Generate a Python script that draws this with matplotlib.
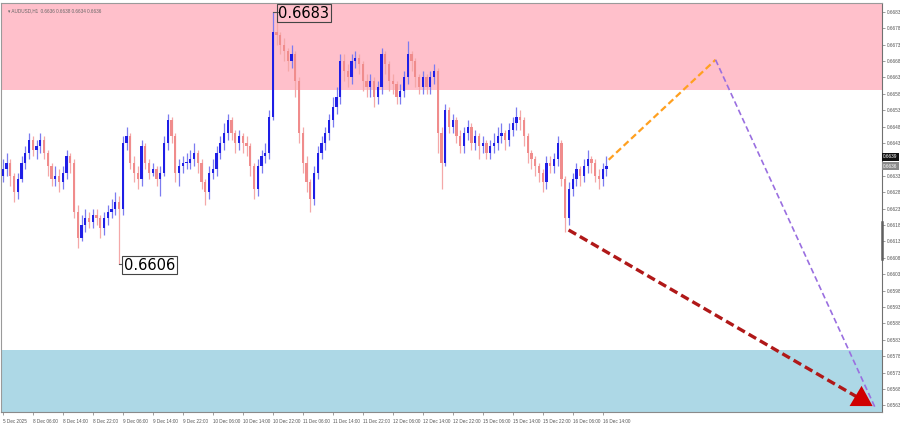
import matplotlib
matplotlib.use("Agg")
import matplotlib.pyplot as plt

# ---------------- data ----------------
first_open = 0.6633
closes = [
    0.6635, 0.6637, 0.6633, 0.6628, 0.6632, 0.6637, 0.6640, 0.6644, 0.6641, 0.6642,
    0.6644, 0.6640, 0.6636, 0.6632, 0.6633, 0.6631, 0.6634, 0.6639, 0.6637, 0.6622,
    0.6614, 0.6618, 0.6620, 0.6619, 0.6621, 0.6620, 0.6617, 0.6620, 0.6622, 0.6623,
    0.6625, 0.6623, 0.6643, 0.6645, 0.6637, 0.6634, 0.6632, 0.6642, 0.6637, 0.6634,
    0.6635, 0.6632, 0.6634, 0.6643, 0.6650, 0.6645, 0.6634, 0.6636, 0.6637, 0.6637,
    0.6638, 0.6640, 0.6637, 0.6631, 0.6628, 0.6634, 0.6635, 0.6640, 0.6643, 0.6646,
    0.6650, 0.6646, 0.6643, 0.6645, 0.6643, 0.6642, 0.6636, 0.6629, 0.6636, 0.6639,
    0.6640, 0.6651, 0.6677, 0.6676, 0.6673, 0.6671, 0.6668, 0.6670, 0.6662, 0.6646,
    0.6637, 0.6631, 0.6626, 0.6634, 0.6640, 0.6643, 0.6646, 0.6650, 0.6654, 0.6657,
    0.6668, 0.6665, 0.6663, 0.6668, 0.6669, 0.6667, 0.6662, 0.6660, 0.6662, 0.6657,
    0.6660, 0.6670, 0.6667, 0.6662, 0.6661, 0.6657, 0.6659, 0.6663, 0.6670, 0.6668,
    0.6663, 0.6660, 0.6663, 0.6660, 0.6663, 0.6665, 0.6646, 0.6637, 0.6653, 0.6648,
    0.6650, 0.6645, 0.6642, 0.6646, 0.6648, 0.6643, 0.6645, 0.6642, 0.6643, 0.6640,
    0.6642, 0.6643, 0.6645, 0.6646, 0.6644, 0.6647, 0.6649, 0.6651, 0.6650, 0.6645,
    0.6640, 0.6638, 0.6636, 0.6634, 0.6631, 0.6637, 0.6636, 0.6638, 0.6643, 0.6632,
    0.6620, 0.6629, 0.6632, 0.6635, 0.6633, 0.6636, 0.6638, 0.6637, 0.6633, 0.6632,
    0.6635, 0.6636,
]
highs = [
    0.6638, 0.6640, 0.6638, 0.6634, 0.6634, 0.6639, 0.6642, 0.6646, 0.6645, 0.6644,
    0.6646, 0.6645, 0.6641, 0.6637, 0.6636, 0.6635, 0.6636, 0.6641, 0.6640, 0.6638,
    0.6624, 0.6621, 0.6623, 0.6622, 0.6623, 0.6623, 0.6621, 0.6622, 0.6624, 0.6626,
    0.6628, 0.6627, 0.6645, 0.6648, 0.6646, 0.6639, 0.6636, 0.6644, 0.6643, 0.6638,
    0.6637, 0.6636, 0.6636, 0.6645, 0.6652, 0.6651, 0.6646, 0.6638, 0.6639, 0.6640,
    0.6641, 0.6643, 0.6641, 0.6638, 0.6632, 0.6636, 0.6638, 0.6642, 0.6645, 0.6649,
    0.6652, 0.6651, 0.6647, 0.6647, 0.6646, 0.6645, 0.6643, 0.6637, 0.6638, 0.6641,
    0.6643, 0.6653, 0.6683, 0.6680, 0.6677, 0.6675, 0.6672, 0.6673, 0.6671, 0.6663,
    0.6648, 0.6639, 0.6632, 0.6636, 0.6642, 0.6645, 0.6648, 0.6652, 0.6657, 0.6660,
    0.6670, 0.6670, 0.6667, 0.6670, 0.6671, 0.6670, 0.6668, 0.6664, 0.6664, 0.6663,
    0.6662, 0.6672, 0.6671, 0.6668, 0.6664, 0.6662, 0.6661, 0.6665, 0.6674, 0.6671,
    0.6669, 0.6664, 0.6665, 0.6664, 0.6665, 0.6667, 0.6666, 0.6648, 0.6655, 0.6654,
    0.6652, 0.6651, 0.6647, 0.6648, 0.6650, 0.6649, 0.6647, 0.6646, 0.6645, 0.6644,
    0.6644, 0.6646, 0.6648, 0.6649, 0.6647, 0.6649, 0.6651, 0.6654, 0.6653, 0.6651,
    0.6646, 0.6641, 0.6639, 0.6637, 0.6635, 0.6639, 0.6639, 0.6640, 0.6645, 0.6644,
    0.6633, 0.6631, 0.6634, 0.6637, 0.6636, 0.6638, 0.6641, 0.6639, 0.6638, 0.6635,
    0.6637, 0.6639,
]
lows = [
    0.6631, 0.6633, 0.6630, 0.6625, 0.6626, 0.6631, 0.6635, 0.6638, 0.6639, 0.6638,
    0.6640, 0.6638, 0.6633, 0.6630, 0.6630, 0.6628, 0.6629, 0.6632, 0.6634, 0.6620,
    0.6611, 0.6613, 0.6616, 0.6617, 0.6617, 0.6618, 0.6614, 0.6615, 0.6618, 0.6620,
    0.6621, 0.6606, 0.6621, 0.6641, 0.6635, 0.6631, 0.6629, 0.6630, 0.6635, 0.6632,
    0.6633, 0.6630, 0.6627, 0.6633, 0.6641, 0.6643, 0.6631, 0.6630, 0.6634, 0.6635,
    0.6635, 0.6636, 0.6634, 0.6629, 0.6624, 0.6626, 0.6632, 0.6633, 0.6638, 0.6641,
    0.6644, 0.6644, 0.6640, 0.6641, 0.6640, 0.6639, 0.6633, 0.6626, 0.6627, 0.6634,
    0.6637, 0.6638, 0.6650, 0.6673, 0.6670, 0.6668, 0.6665, 0.6666, 0.6657, 0.6643,
    0.6634, 0.6628, 0.6622, 0.6624, 0.6632, 0.6638, 0.6641, 0.6644, 0.6648, 0.6652,
    0.6655, 0.6662, 0.6660, 0.6661, 0.6666, 0.6664, 0.6659, 0.6657, 0.6657, 0.6654,
    0.6655, 0.6658, 0.6664, 0.6659, 0.6658, 0.6655, 0.6655, 0.6657, 0.6661, 0.6665,
    0.6660, 0.6658, 0.6658, 0.6658, 0.6658, 0.6661, 0.6640, 0.6629, 0.6636, 0.6646,
    0.6646, 0.6643, 0.6640, 0.6640, 0.6644, 0.6641, 0.6641, 0.6638, 0.6640, 0.6638,
    0.6638, 0.6640, 0.6641, 0.6643, 0.6641, 0.6642, 0.6645, 0.6647, 0.6647, 0.6642,
    0.6637, 0.6635, 0.6633, 0.6631, 0.6628, 0.6629, 0.6634, 0.6634, 0.6636, 0.6630,
    0.6616, 0.6618, 0.6627, 0.6630, 0.6630, 0.6631, 0.6634, 0.6634, 0.6631, 0.6629,
    0.6630, 0.6633,
]
x_tick_labels = [
    "5 Dec 2025", "8 Dec 06:00", "8 Dec 14:00", "8 Dec 22:00", "9 Dec 06:00",
    "9 Dec 14:00", "9 Dec 22:00", "10 Dec 06:00", "10 Dec 14:00", "10 Dec 22:00",
    "11 Dec 06:00", "11 Dec 14:00", "11 Dec 22:00", "12 Dec 06:00", "12 Dec 14:00",
    "12 Dec 22:00", "15 Dec 06:00", "15 Dec 14:00", "15 Dec 22:00", "16 Dec 06:00",
    "16 Dec 14:00",
]
bars_per_label = 8
y_ticks = [0.6683, 0.6678, 0.6673, 0.6668, 0.6663, 0.6658, 0.6653, 0.6648, 0.6643,
           0.6633, 0.6628, 0.6623, 0.6618, 0.6613, 0.6608, 0.6603, 0.6598,
           0.6593, 0.6588, 0.6583, 0.6578, 0.6573, 0.6568, 0.6563]
title_text = "\u25BE AUDUSD,H1  0.6636 0.6638 0.6634 0.6636"
ask_price = 0.66388
bid_price = 0.6636
resistance_zone = (0.66592, 0.6700)
support_zone = (0.6500, 0.65799)
high_mark = (72, 0.6683)
low_mark = (31, 0.6606)
# forecast wave paths (bar index, price)
orange_x = [161.6, 190.1]
orange_y = [0.66379, 0.66684]
purple_x = [190.1, 232.6]
purple_y = [0.66684, 0.65625]
red_x = [150.9, 232.0]
red_y = [0.66165, 0.65628]

# ---------------- figure ----------------
SMALL_FONT = ["Liberation Sans", "DejaVu Sans"]
W, H = 900, 433
fig = plt.figure(figsize=(W / 100, H / 100), dpi=100)
fig.patch.set_facecolor("white")
ax = fig.add_axes([1 / W, (H - 412) / H, 881 / W, 409 / H])
ax.set_xlim(-0.5, 234.5)
ax.set_ylim(0.65610, 0.66857)

# zones
ax.axhspan(resistance_zone[0], resistance_zone[1], color="#FFC0CB", lw=0, zorder=0)
ax.axhspan(support_zone[0], support_zone[1], color="#ADD8E6", lw=0, zorder=0)

# candles
opens = [first_open] + closes[:-1]
bull_c, bear_c = "#1E1EE6", "#F08C8C"
bull_w, bear_w = "#7C7CF0", "#F4A8A8"
idx = list(range(len(closes)))
cols = [bull_c if c >= o else bear_c for o, c in zip(opens, closes)]
wcols = [bull_w if c >= o else bear_w for o, c in zip(opens, closes)]
ax.vlines(idx, lows, highs, colors=wcols, lw=0.9, zorder=2)
bottoms = [min(o, c) for o, c in zip(opens, closes)]
heights = [max(abs(c - o), 0.00003) for o, c in zip(opens, closes)]
ax.bar(idx, heights, bottom=bottoms, width=0.6, color=cols, lw=0, zorder=3)

# high / low labels
ax.plot([high_mark[0], high_mark[0] + 1.3], [high_mark[1], high_mark[1]],
        color="#555555", lw=0.8, zorder=4)
ax.text(high_mark[0] + 1.5, high_mark[1] - 0.00004, "%.4f" % high_mark[1],
        fontsize=10.5, ha="left", va="center", color="black", zorder=5,
        bbox=dict(boxstyle="square,pad=0.12", fc="none", ec="#444444", lw=0.8))
ax.plot([low_mark[0], low_mark[0] + 1.0], [low_mark[1], low_mark[1]],
        color="#555555", lw=0.8, zorder=4)
ax.text(low_mark[0] + 1.2, low_mark[1] - 0.00002, "%.4f" % low_mark[1],
        fontsize=10.5, ha="left", va="center", color="black", zorder=5,
        bbox=dict(boxstyle="square,pad=0.12", fc="white", ec="#444444", lw=0.8))

# forecast lines
ax.plot(orange_x, orange_y, color="#FFA020", lw=1.6, dashes=(3, 1.6), zorder=6)
ax.plot(purple_x, purple_y, color="#9A6FE0", lw=1.2, dashes=(3.5, 2), zorder=6)
ax.plot(red_x[:1] + [red_x[1] - 2.5], red_y[:1] + [red_y[1] + 0.00017],
        color="#B01818", lw=2.4, dashes=(2.6, 1.3), zorder=7)
ax.annotate("", xy=(red_x[1], red_y[1]),
            xytext=(red_x[1] - 5.0, red_y[1] + 0.00034),
            arrowprops=dict(arrowstyle="-|>,head_length=1.1,head_width=0.65",
                            color="#D00000", lw=0, mutation_scale=13,
                            shrinkA=0, shrinkB=0), zorder=8)

# axes styling
for s in ["top", "left"]:
    ax.spines[s].set_color("#9A9A9A")
    ax.spines[s].set_linewidth(0.8)
ax.spines["bottom"].set_color("#8A8A8A")
ax.spines["right"].set_color("#707070")
ax.spines["bottom"].set_linewidth(0.8)
ax.spines["right"].set_linewidth(0.8)

ax.yaxis.tick_right()
ax.set_yticks(y_ticks)
ax.set_yticklabels(["%.4f" % v for v in y_ticks], family=SMALL_FONT)
ax.tick_params(axis="y", labelsize=3.4, labelcolor="#555555", color="#777777",
               length=2, width=0.5, pad=1.2, direction="out")
xt = [i * bars_per_label for i in range(len(x_tick_labels))]
ax.set_xticks(xt)
ax.set_xticklabels(x_tick_labels, ha="left", family=SMALL_FONT)
ax.tick_params(axis="x", labelsize=3.3, labelcolor="#555555", color="#777777",
               length=2.5, width=0.5, pad=2.5, direction="out")

# price boxes on the right scale
ax.text(1.0015, ask_price, "%.4f" % ask_price, transform=ax.get_yaxis_transform(),
        fontsize=3.4, family=SMALL_FONT, color="white", ha="left", va="center",
        bbox=dict(boxstyle="square,pad=0.25", fc="#111111", ec="none"), clip_on=False)
ax.text(1.0015, bid_price, "%.4f" % bid_price, transform=ax.get_yaxis_transform(),
        fontsize=3.4, family=SMALL_FONT, color="white", ha="left", va="center",
        bbox=dict(boxstyle="square,pad=0.25", fc="#8A8A8A", ec="none"), clip_on=False)
ax.plot([1.0, 1.0], [0.66190, 0.66075], transform=ax.get_yaxis_transform(),
        color="#606060", lw=1.8, clip_on=False, zorder=9)

# title
ax.text(0.008, 0.988, title_text, transform=ax.transAxes, fontsize=3.3,
        family=SMALL_FONT, color="#666666", ha="left", va="top")

fig.savefig("out.png", dpi=100, facecolor="white")
